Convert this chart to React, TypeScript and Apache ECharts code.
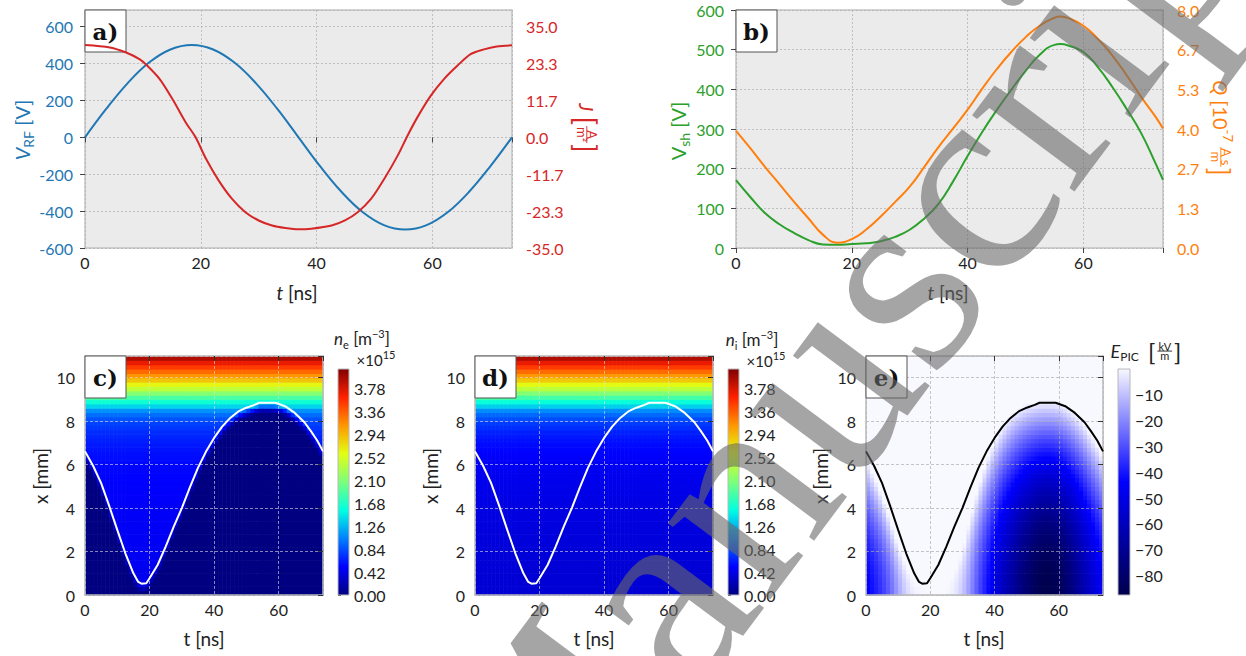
import React, { useEffect, useRef } from 'react';
import * as echarts from 'echarts';

const T_END = 73.75;
const FONT = 'Lato';
const BLUE = '#1f77b4';
const RED = '#d62728';
const GREEN = '#2ca02c';
const ORANGE = '#ff7f0e';
const DARK = '#222222';

// ---------- panel a) ----------
const tRF = [0, 3.69, 7.38, 11.06, 14.75, 18.44, 22.13, 25.81, 29.5, 33.19, 36.88, 40.56, 44.25, 47.94, 51.63, 55.31, 59.0, 62.69, 66.38, 70.06, 73.75];
const vRF = [0, 155, 294, 405, 476, 500, 476, 405, 294, 155, 0, -155, -294, -405, -476, -500, -476, -405, -294, -155, 0];
const tJ = [0, 4.3, 7.1, 9.4, 10.6, 12.9, 15.1, 17.4, 19.1, 20.9, 23.1, 25.4, 27.7, 30, 32.3, 34.6, 36.9, 39.1, 42.6, 44.9, 47.1, 49.4, 51.7, 54, 55.7, 57.4, 59.7, 62, 64.3, 66.6, 68.9, 71.1, 73.75];
const jVals = [29.2, 28.4, 26.8, 24.7, 22.9, 18.4, 12.1, 4.7, 0, -6.8, -13.7, -19.5, -23.7, -26.3, -27.9, -28.7, -29.1, -28.9, -27.9, -26.3, -23.7, -19.5, -13.1, -5.8, 0.5, 6.3, 13.1, 18.4, 22.6, 26.3, 27.8, 28.7, 29.1];

// ---------- panel b) ----------
const tB = [0, 2.5, 5, 7.5, 10, 12.5, 15, 17.5, 20, 22.5, 25, 27.5, 30, 32.5, 35, 37.5, 40, 42.5, 45, 47.5, 50, 52.5, 55, 56, 57.5, 60, 62.5, 65, 67.5, 70, 72.5, 73.75];
const vSh = [171, 128, 88, 60, 38, 20, 9, 8, 10, 12, 17, 28, 46, 74, 112, 168, 232, 292, 347, 398, 446, 488, 512, 514, 510, 494, 456, 406, 350, 289, 212, 172];
const qVals = [3.94, 3.35, 2.73, 2.15, 1.56, 1.0, 0.45, 0.18, 0.3, 0.62, 1.06, 1.55, 2.06, 2.72, 3.4, 4.02, 4.65, 5.35, 6.0, 6.58, 7.08, 7.48, 7.74, 7.78, 7.72, 7.47, 7.03, 6.47, 5.8, 5.07, 4.4, 4.02];

// ---------- sheath edge (c, d, e) ----------
const tSh = [0, 2.5, 5, 7.5, 10, 12.5, 15, 16.5, 17.5, 19, 20, 22.5, 25, 27.5, 30, 32.5, 35, 37.5, 40, 42.5, 45, 47.5, 50, 52.5, 54, 59, 62, 65, 68, 70, 72, 73.75];
const xSh = [6.61, 5.95, 5.15, 4.1, 3.0, 1.92, 1.0, 0.6, 0.52, 0.54, 0.77, 1.38, 2.23, 3.15, 4.0, 4.95, 5.85, 6.6, 7.23, 7.75, 8.15, 8.45, 8.62, 8.75, 8.85, 8.85, 8.69, 8.38, 7.95, 7.54, 7.1, 6.61];

// ---------- density profiles (c, d) ----------
const profX = [0, 1, 2, 3, 4, 5, 6, 6.5, 7, 7.5, 8, 8.25, 8.5, 8.75, 9, 9.25, 9.5, 9.75, 10, 10.25, 10.5, 10.75, 11];
const neProf = [0.46, 0.46, 0.47, 0.48, 0.49, 0.51, 0.54, 0.57, 0.62, 0.69, 0.8, 0.92, 1.1, 1.45, 1.72, 2.05, 2.4, 2.68, 3.0, 3.25, 3.5, 3.75, 4.05];
const niProf = [0.34, 0.35, 0.36, 0.38, 0.4, 0.43, 0.47, 0.51, 0.56, 0.64, 0.78, 0.9, 1.08, 1.42, 1.7, 2.03, 2.38, 2.66, 2.98, 3.24, 3.5, 3.75, 4.05];

// ---------- field (e) ----------
const tE = [0, 2.5, 5, 7.5, 10, 12.5, 15, 20, 25, 27.5, 30, 32.5, 35, 37.5, 40, 42.5, 45, 47.5, 50, 52.5, 55, 57.5, 60, 62.5, 65, 67.5, 70, 72.5, 73.75];
const eElectrode = [-45, -40, -34, -26, -15, -6, -1, 0, 0, -2, -8, -18, -30, -40, -50, -59, -66, -73, -79, -84, -87, -87, -84, -79, -72, -64, -56, -48, -45];
const eReach = [6.3, 5.5, 4.6, 3.5, 2.3, 1.3, 0.6, 0.5, 0.5, 1.0, 2.0, 3.6, 5.0, 6.2, 7.1, 7.8, 8.3, 8.6, 8.8, 8.9, 8.95, 8.95, 8.9, 8.7, 8.4, 8.0, 7.4, 6.8, 6.3];

// ---------- ticks / colormaps ----------
const nTicks = [0, 0.42, 0.84, 1.26, 1.68, 2.1, 2.52, 2.94, 3.36, 3.78];
const eTicks = [-80, -70, -60, -50, -40, -30, -20, -10];
const N_MAX = 4.13;
const E_MIN = -87.5;
const jet = ['#000080', '#0000ff', '#0080ff', '#00ffe2', '#7bff7b', '#e2ff14', '#ff9700', '#ff2100', '#800000'];
const seis = ['#00004c', '#0000ff', '#f8f8ff'];

// ---------- helpers ----------
function lerp(xs: number[], ys: number[], x: number) {
  if (x <= xs[0]) return ys[0];
  for (let i = 1; i < xs.length; i++) {
    if (x <= xs[i]) {
      const f = (x - xs[i - 1]) / (xs[i] - xs[i - 1]);
      return ys[i - 1] + f * (ys[i] - ys[i - 1]);
    }
  }
  return ys[ys.length - 1];
}
const clamp01 = (v: number) => Math.max(0, Math.min(1, v));
const smooth = (u: number) => u * u * (3 - 2 * u);
const NT = 59, NX = 55, X_MAX = 11;
const DT = T_END / NT, DX = X_MAX / NX;
function cells(fn: (t: number, x: number) => number) {
  const out: number[][] = [];
  for (let i = 0; i < NT; i++) {
    for (let j = 0; j < NX; j++) {
      const t = (i + 0.5) * DT, x = (j + 0.5) * DX;
      out.push([t, x, fn(t, x)]);
    }
  }
  return out;
}
const neCells = cells((t, x) => {
  const edge = lerp(tSh, xSh, t);
  const s = smooth(clamp01((x - edge + 0.5) / 0.55));
  return lerp(profX, neProf, x) * s;
});
const niCells = cells((t, x) => lerp(profX, niProf, x));
const eCells = cells((t, x) => {
  const e0 = lerp(tE, eElectrode, t);
  const xr = lerp(tE, eReach, t);
  const u = x / xr;
  return e0 * Math.max(0, 1 - u * u);
});
const pairs = (a: number[], b: number[]) => a.map((v, i) => [v, b[i]]);

// text measurement
let _ctx: CanvasRenderingContext2D | null = null;
function tw(text: string, size: number, italic = false) {
  if (!_ctx) _ctx = document.createElement('canvas').getContext('2d');
  if (!_ctx) return text.length * size * 0.5;
  _ctx.font = `${italic ? 'italic ' : ''}${size}px ${FONT}`;
  return _ctx.measureText(text).width;
}
type Piece = { t?: string; s: number; it?: boolean; dy?: number; fr?: [string, string]; gap?: number };
function textEl(text: string, x: number, y: number, size: number, color: string, italic = false, weight = 'normal', family = FONT) {
  return {
    type: 'text', x, y,
    style: {
      text, fill: color, font: `${italic ? 'italic ' : ''}${weight} ${size}px ${family}`,
      align: 'left', verticalAlign: 'middle', textAlign: 'left', textVerticalAlign: 'middle',
    },
  };
}
function label(pieces: Piece[], cx: number, cy: number, rot: number, color: string, main: number) {
  const items: any[] = [];
  let x = 0;
  for (const p of pieces) {
    if (p.gap) { x += p.gap; continue; }
    if (p.fr) {
      const fs = p.s;
      const w0 = tw(p.fr[0], fs), w1 = tw(p.fr[1], fs);
      const w = Math.max(w0, w1) + 2;
      const ax = -0.27 * main;
      items.push(textEl(p.fr[0], x + (w - w0) / 2, ax - 1.6 - 0.3 * fs, fs, color));
      items.push(textEl(p.fr[1], x + (w - w1) / 2, ax + 1.8 + 0.22 * fs, fs, color));
      items.push({ type: 'line', shape: { x1: x, y1: ax, x2: x + w, y2: ax }, style: { stroke: color, lineWidth: 0.9 } });
      x += w;
    } else {
      const t = p.t || '';
      items.push(textEl(t, x, (p.dy || 0) - 0.3 * p.s, p.s, color, !!p.it));
      x += tw(t, p.s, !!p.it);
    }
  }
  const sx = -x / 2, sy = 0.33 * main;
  for (const it of items) {
    if (it.type === 'line') {
      it.shape.x1 += sx; it.shape.x2 += sx; it.shape.y1 += sy; it.shape.y2 += sy;
    } else {
      it.x += sx; it.y += sy;
    }
  }
  return { type: 'group', x: cx, y: cy, rotation: rot, children: items, z: 20 };
}

// ---------- layout ----------
const gA = { left: 85, top: 10, width: 427, height: 238 };
const gB = { left: 736, top: 10, width: 427, height: 238 };
const gC = { left: 85, top: 356, width: 238, height: 239 };
const gD = { left: 475, top: 356, width: 238, height: 239 };
const gE = { left: 866, top: 356, width: 237, height: 239 };
const cbC = { left: 338, top: 369, width: 11, height: 226 };
const cbD = { left: 728, top: 369, width: 11, height: 226 };
const cbE = { left: 1118, top: 369, width: 12, height: 226 };

const tickFont = { fontFamily: FONT, fontSize: 16 };

function lineXAxis(gi: number) {
  return [
    {
      type: 'value', gridIndex: gi, min: 0, max: T_END, interval: 20,
      axisLine: { show: false }, axisTick: { show: false },
      axisLabel: { ...tickFont, color: DARK, margin: 6, showMaxLabel: false },
      splitLine: { show: true, lineStyle: { color: '#b4b4b4', type: [2, 2], width: 0.8 } },
    },
    {
      type: 'value', gridIndex: gi, position: 'top', min: 0, max: T_END, interval: 20,
      axisLine: { show: false }, axisLabel: { show: false }, splitLine: { show: false },
      axisTick: { show: true, inside: true, length: 5, lineStyle: { color: '#444', width: 1 } },
    },
  ];
}
function heatXAxis(gi: number, gridColor: string) {
  return [
    {
      type: 'value', gridIndex: gi, min: 0, max: T_END, interval: 20, z: 3,
      axisLine: { show: true, onZero: false, lineStyle: { color: '#b8b8b8', width: 1.5 } }, axisTick: { show: false },
      axisLabel: { ...tickFont, color: DARK, margin: 6, showMaxLabel: false },
      splitLine: { show: true, lineStyle: { color: gridColor, type: [3, 2], width: 0.8 } },
    },
    {
      type: 'value', gridIndex: gi, position: 'top', min: 0, max: T_END, interval: 20, z: 3,
      axisLine: { show: true, onZero: false, lineStyle: { color: '#b8b8b8', width: 1.5 } },
      axisLabel: { show: false }, splitLine: { show: false },
      axisTick: { show: true, inside: true, length: 5, lineStyle: { color: '#333', width: 1 } },
    },
  ];
}
function heatYAxis(gi: number, gridColor: string) {
  return [
    {
      type: 'value', gridIndex: gi, min: 0, max: X_MAX, interval: 2, z: 3,
      axisLine: { show: true, onZero: false, lineStyle: { color: '#b8b8b8', width: 1.5 } }, axisTick: { show: false },
      axisLabel: { ...tickFont, color: DARK, margin: 10, showMaxLabel: false },
      splitLine: { show: true, lineStyle: { color: gridColor, type: [3, 2], width: 0.8 } },
    },
    {
      type: 'value', gridIndex: gi, position: 'right', min: 0, max: X_MAX, interval: 2, z: 3,
      axisLine: { show: true, onZero: false, lineStyle: { color: '#b8b8b8', width: 1.5 } },
      axisLabel: { show: false }, splitLine: { show: false },
      axisTick: { show: true, inside: true, length: 5, lineStyle: { color: '#333', width: 1 } },
    },
  ];
}
function cbXAxis(gi: number) {
  return { type: 'value', gridIndex: gi, min: 0, max: 1, show: false };
}
function cbYAxis(gi: number, min: number, max: number, ticks: number[], fmt: (v: number) => string) {
  return {
    type: 'value', gridIndex: gi, position: 'right', min, max,
    axisLine: { show: false }, splitLine: { show: false },
    axisTick: { show: true, length: 3, customValues: ticks, lineStyle: { color: '#333', width: 1 } },
    axisLabel: { ...tickFont, color: DARK, margin: 5, customValues: ticks, formatter: fmt },
  };
}

function renderCell(params: any, api: any) {
  const t = api.value(0), x = api.value(1);
  const p0 = api.coord([t - DT / 2, x + DX / 2]);
  const p1 = api.coord([t + DT / 2, x - DX / 2]);
  return {
    type: 'rect',
    shape: { x: p0[0], y: p0[1], width: p1[0] - p0[0] + 0.6, height: p1[1] - p0[1] + 0.6 },
    style: { fill: api.visual('color') },
  };
}

function gradRect(g: any, colors: string[]) {
  const n = colors.length;
  const stops = colors.map((c, i) => ({ offset: i / (n - 1), color: colors[n - 1 - i] }));
  return {
    type: 'rect', z: 5,
    shape: { x: g.left, y: g.top, width: g.width, height: g.height },
    style: {
      fill: { type: 'linear', x: 0, y: 0, x2: 0, y2: 1, colorStops: stops, global: false },
      stroke: '#b8b8b8', lineWidth: 1,
    },
  };
}
function panelBox(x: number, y: number, txt: string, z: number) {
  return {
    type: 'group', x, y, z,
    children: [
      { type: 'rect', z, shape: { x: 0, y: 0, width: 41, height: 42 }, style: { fill: '#ffffff', stroke: '#555', lineWidth: 1 } },
      {
        type: 'text', z: z + 1, x: 20.5, y: 21,
        style: { text: txt, fill: '#111', font: 'bold 23px "DejaVu Serif"', align: 'center', verticalAlign: 'middle', textAlign: 'center', textVerticalAlign: 'middle' },
      },
    ],
  };
}

function buildOption() {
  const fmt2 = (v: number) => v.toFixed(2);
  const fmtE = (v: number) => '\u2212' + Math.abs(Math.round(v));
  const fmt1 = (v: number) => (Math.abs(v) < 1e-9 ? '0.0' : v.toFixed(1));
  const tTitle = (cx: number, cy: number, italic: boolean) =>
    label([{ t: 't', s: 19, it: italic }, { t: ' [ns]', s: 19 }], cx, cy, 0, DARK, 19);
  const xTitle = (cx: number, cy: number) => label([{ t: 'x [mm]', s: 19 }], cx, cy, Math.PI / 2, DARK, 19);

  const graphics: any[] = [
    panelBox(85, 10, 'a)', 1),
    panelBox(736, 10, 'b)', 1),
    panelBox(85, 356, 'c)', 10),
    panelBox(475, 356, 'd)', 10),
    panelBox(866, 356, 'e)', 10),
    gradRect(cbC, jet),
    gradRect(cbD, jet),
    gradRect(cbE, seis),
    label([{ t: 'V', s: 20, it: true }, { t: 'RF', s: 14, dy: 5 }, { t: ' [V]', s: 20 }], 21, 130, Math.PI / 2, BLUE, 20),
    label([{ t: 'J', s: 20, it: true }, { t: ' ', s: 20 }, { t: '[', s: 28, dy: 4 }, { gap: 1 }, { fr: ['A', 'm\u00b2'], s: 13 }, { gap: 1 }, { t: ']', s: 28, dy: 4 }], 588, 128, -Math.PI / 2, RED, 20),
    label([{ t: 'V', s: 20, it: false }, { t: 'sh', s: 14, dy: 5 }, { t: ' [V]', s: 20 }], 677, 131, Math.PI / 2, GREEN, 20),
    label([{ t: 'Q', s: 20, it: true }, { t: ' [10', s: 20 }, { t: '-7', s: 13, dy: -9 }, { t: ' ', s: 20 }, { fr: ['A s', 'm'], s: 13 }, { gap: 1 }, { t: ']', s: 26, dy: 3 }], 1222, 128, -Math.PI / 2, ORANGE, 20),
    tTitle(297, 292, true),
    tTitle(948, 292, true),
    tTitle(204, 638, false),
    tTitle(594, 638, false),
    tTitle(984, 638, false),
    xTitle(40, 476),
    xTitle(430, 476),
    xTitle(820, 476),
    label([{ t: 'n', s: 17, it: true }, { t: 'e', s: 11, dy: 4 }, { t: ' [m', s: 17 }, { t: '\u22123', s: 11, dy: -7 }, { t: ']', s: 17 }], 362, 338, 0, DARK, 17),
    label([{ t: '\u00d710', s: 15 }, { t: '15', s: 11, dy: -7 }], 376, 360, 0, DARK, 15),
    label([{ t: 'n', s: 17, it: true }, { t: 'i', s: 11, dy: 4 }, { t: ' [m', s: 17 }, { t: '\u22123', s: 11, dy: -7 }, { t: ']', s: 17 }], 752, 339, 0, DARK, 17),
    label([{ t: '\u00d710', s: 15 }, { t: '15', s: 11, dy: -7 }], 766, 361, 0, DARK, 15),
    label([{ t: 'E', s: 18, it: true }, { t: 'PIC', s: 12, dy: 4 }, { t: '  ', s: 18 }, { t: '[', s: 24, dy: 3 }, { gap: 2 }, { fr: ['kV', 'm'], s: 11 }, { gap: 2 }, { t: ']', s: 24, dy: 3 }], 1146, 350, 0, DARK, 18),
    {
      type: 'text', x: 848, y: 338, rotation: 0.93, z: 100, silent: true,
      style: {
        text: 'Manuscript', fill: 'rgba(105,105,105,0.6)', font: '278px "Liberation Serif"',
        align: 'center', verticalAlign: 'middle', textAlign: 'center', textVerticalAlign: 'middle',
      },
    },
  ];

  return {
    animation: false,
    backgroundColor: '#ffffff',
    grid: [
      { ...gA, show: true, backgroundColor: '#ebebeb', borderColor: '#c4c4c4', borderWidth: 1.5 },
      { ...gB, show: true, backgroundColor: '#ebebeb', borderColor: '#c4c4c4', borderWidth: 1.5 },
      { ...gC }, { ...gD }, { ...gE }, { ...cbC }, { ...cbD }, { ...cbE },
    ],
    xAxis: [
      ...lineXAxis(0), ...lineXAxis(1),
      ...heatXAxis(2, 'rgba(225,225,225,0.75)'), ...heatXAxis(3, 'rgba(225,225,225,0.75)'), ...heatXAxis(4, 'rgba(170,170,170,0.85)'),
      cbXAxis(5), cbXAxis(6), cbXAxis(7),
    ],
    yAxis: [
      {
        type: 'value', gridIndex: 0, min: -600, max: 690, interval: 200,
        axisLine: { show: false }, axisTick: { show: false },
        axisLabel: { ...tickFont, color: BLUE, margin: 12, showMaxLabel: false },
        splitLine: { show: true, lineStyle: { color: '#b4b4b4', type: [2, 2], width: 0.8 } },
      },
      {
        type: 'value', gridIndex: 0, position: 'right', min: -35, max: 40.25, interval: 35 / 3,
        axisLine: { show: false }, splitLine: { show: false },
        axisTick: { show: true, inside: true, length: 5, lineStyle: { color: '#444' } },
        axisLabel: { ...tickFont, color: RED, margin: 14, showMaxLabel: false, formatter: fmt1 },
      },
      {
        type: 'value', gridIndex: 1, min: 0, max: 600, interval: 100,
        axisLine: { show: false }, axisTick: { show: false },
        axisLabel: { ...tickFont, color: GREEN, margin: 12 },
        splitLine: { show: true, lineStyle: { color: '#b4b4b4', type: [2, 2], width: 0.8 } },
      },
      {
        type: 'value', gridIndex: 1, position: 'right', min: 0, max: 8, interval: 8 / 6,
        axisLine: { show: false }, splitLine: { show: false },
        axisTick: { show: true, inside: true, length: 5, lineStyle: { color: '#444' } },
        axisLabel: { ...tickFont, color: ORANGE, margin: 14, formatter: fmt1 },
      },
      ...heatYAxis(2, 'rgba(225,225,225,0.75)'), ...heatYAxis(3, 'rgba(225,225,225,0.75)'), ...heatYAxis(4, 'rgba(170,170,170,0.85)'),
      cbYAxis(5, 0, N_MAX, nTicks, fmt2),
      cbYAxis(6, 0, N_MAX, nTicks, fmt2),
      cbYAxis(7, E_MIN, 0, eTicks, fmtE),
    ],
    visualMap: [
      { type: 'continuous', show: false, seriesIndex: 4, dimension: 2, min: 0, max: N_MAX, inRange: { color: jet } },
      { type: 'continuous', show: false, seriesIndex: 6, dimension: 2, min: 0, max: N_MAX, inRange: { color: jet } },
      { type: 'continuous', show: false, seriesIndex: 8, dimension: 2, min: E_MIN, max: 0, inRange: { color: seis } },
    ],
    series: [
      { type: 'line', xAxisIndex: 0, yAxisIndex: 0, data: pairs(tRF, vRF), smooth: 0.4, showSymbol: false, lineStyle: { color: BLUE, width: 2 }, z: 3 },
      { type: 'line', xAxisIndex: 0, yAxisIndex: 1, data: pairs(tJ, jVals), smooth: 0.3, showSymbol: false, lineStyle: { color: RED, width: 2 }, z: 3 },
      { type: 'line', xAxisIndex: 2, yAxisIndex: 2, data: pairs(tB, vSh), smooth: 0.5, showSymbol: false, lineStyle: { color: GREEN, width: 2 }, z: 3 },
      { type: 'line', xAxisIndex: 2, yAxisIndex: 3, data: pairs(tB, qVals), smooth: 0.5, showSymbol: false, lineStyle: { color: ORANGE, width: 2 }, z: 3 },
      { type: 'custom', xAxisIndex: 4, yAxisIndex: 4, data: neCells, renderItem: renderCell, encode: { x: 0, y: 1 }, z: 1, silent: true, progressive: 0 },
      { type: 'line', xAxisIndex: 4, yAxisIndex: 4, data: pairs(tSh, xSh), showSymbol: false, lineStyle: { color: '#ffffff', width: 2 }, z: 6 },
      { type: 'custom', xAxisIndex: 6, yAxisIndex: 6, data: niCells, renderItem: renderCell, encode: { x: 0, y: 1 }, z: 1, silent: true, progressive: 0 },
      { type: 'line', xAxisIndex: 6, yAxisIndex: 6, data: pairs(tSh, xSh), showSymbol: false, lineStyle: { color: '#ffffff', width: 2 }, z: 6 },
      { type: 'custom', xAxisIndex: 8, yAxisIndex: 8, data: eCells, renderItem: renderCell, encode: { x: 0, y: 1 }, z: 1, silent: true, progressive: 0 },
      { type: 'line', xAxisIndex: 8, yAxisIndex: 8, data: pairs(tSh, xSh), showSymbol: false, lineStyle: { color: '#000000', width: 2 }, z: 6 },
    ],
    graphic: { elements: graphics },
  };
}

export default function App() {
  const ref = useRef<HTMLDivElement>(null);
  useEffect(() => {
    if (!ref.current) return;
    const chart = echarts.init(ref.current, null, { renderer: 'svg' });
    chart.setOption(buildOption() as any);
    return () => chart.dispose();
  }, []);
  return <div ref={ref} style={{ position: 'fixed', left: 0, top: 0, width: 1246, height: 656, background: '#fff' }} />;
}
